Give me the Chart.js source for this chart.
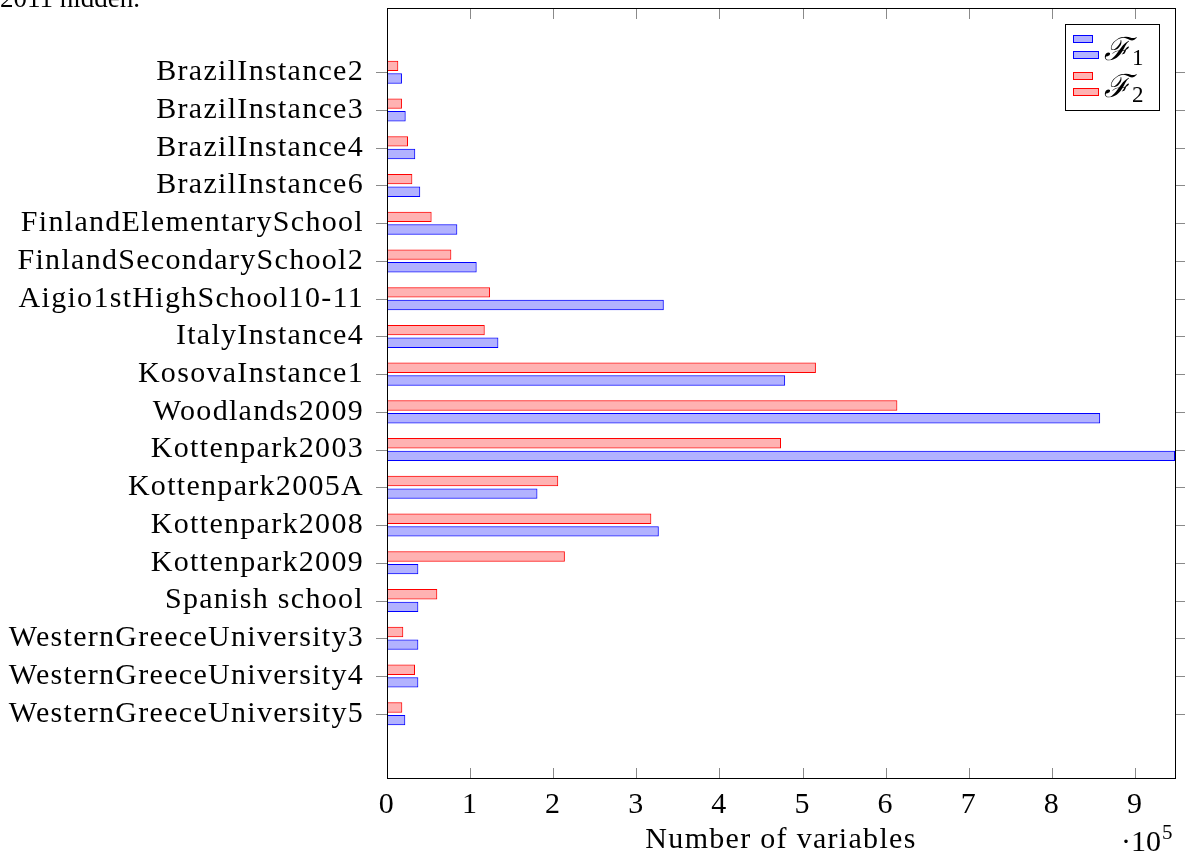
<!DOCTYPE html>
<html>
<head>
<meta charset="utf-8">
<script src="https://cdn.jsdelivr.net/npm/chart.js@4.4.1/dist/chart.umd.min.js"></script>
<style>
  body { margin: 0; background: #fff; }
  canvas { display: block; }
</style>
</head>
<body>
<canvas id="grafica" width="1185" height="855"></canvas>
<script>
const instancias = [
  "BrazilInstance2", "BrazilInstance3", "BrazilInstance4", "BrazilInstance6",
  "FinlandElementarySchool", "FinlandSecondarySchool2", "Aigio1stHighSchool10-11",
  "ItalyInstance4", "KosovaInstance1", "Woodlands2009", "Kottenpark2003",
  "Kottenpark2005A", "Kottenpark2008", "Kottenpark2009", "Spanish school",
  "WesternGreeceUniversity3", "WesternGreeceUniversity4", "WesternGreeceUniversity5"
];
const variablesF1 = [18000, 22500, 34000, 40000, 84600, 107900, 333000, 134000, 479000,
  858000, 948000, 181000, 327000, 37700, 37700, 37700, 37700, 22000];
const variablesF2 = [13600, 18000, 25300, 30500, 53700, 77400, 124000, 117600, 516000,
  614000, 474000, 206000, 318000, 214000, 60500, 19600, 33700, 18400];
const xTicks = [0, 1, 2, 3, 4, 5, 6, 7, 8, 9];
const escala = 1e5;

const fuente = "'Liberation Serif', 'DejaVu Serif', serif";
const espaciado = "1.3px";
const ctx = document.querySelector("#grafica").getContext("2d");

function puntos(valores) {
  return valores.map((v, i) => ({ x: v, y: i }));
}

// letras algo mas separadas, para acercarse al ancho del original
const separar = {
  id: "separar",
  beforeLayout(chart) { chart.ctx.letterSpacing = espaciado; },
  beforeDraw(chart) { chart.ctx.letterSpacing = espaciado; },
};

// marco, marcas de ejes, leyenda y textos extra
const marco = {
  id: "marco",
  afterDraw(chart) {
    const c = chart.ctx;
    const a = chart.chartArea;
    const sx = chart.scales.x;
    const sy = chart.scales.y;
    c.save();
    c.strokeStyle = "#8a8a8a";
    c.lineWidth = 1;
    c.beginPath();
    xTicks.forEach((t) => {
      const px = Math.round(sx.getPixelForValue(t * escala)) + 0.5;
      c.moveTo(px, a.top); c.lineTo(px, a.top + 11);
      c.moveTo(px, a.bottom); c.lineTo(px, a.bottom - 10);
    });
    instancias.forEach((n, i) => {
      const py = Math.round(sy.getPixelForValue(i)) + 0.5;
      c.moveTo(a.left - 11, py); c.lineTo(a.left, py);
      c.moveTo(a.right, py); c.lineTo(a.right + 11, py);
    });
    c.stroke();

    c.strokeStyle = "#000";
    c.strokeRect(Math.round(a.left) + 0.5, Math.round(a.top) + 0.5,
      Math.round(a.right - a.left), Math.round(a.bottom - a.top));

    // leyenda
    const lx = 1065, ly = 24;
    c.fillStyle = "#fff";
    c.fillRect(lx, ly, 94, 86);
    c.strokeRect(lx + 0.5, ly + 0.5, 94, 86);
    const series = [
      { nombre: "\u2131", sub: "1", ds: chart.data.datasets[1], y: ly + 11 },
      { nombre: "\u2131", sub: "2", ds: chart.data.datasets[0], y: ly + 48 }
    ];
    c.letterSpacing = "0px";
    series.forEach((s) => {
      c.fillStyle = s.ds.backgroundColor;
      c.strokeStyle = s.ds.borderColor;
      c.fillRect(lx + 8, s.y, 20, 8);
      c.strokeRect(lx + 8.5, s.y + 0.5, 19, 7);
      c.fillRect(lx + 8, s.y + 16, 26, 8);
      c.strokeRect(lx + 8.5, s.y + 16.5, 25, 7);
      c.fillStyle = "#000";
      c.textAlign = "left";
      c.textBaseline = "alphabetic";
      c.font = "italic 32px 'DejaVu Serif', serif";
      c.fillText(s.nombre, lx + 39, s.y + 25);
      c.font = "23px " + fuente;
      c.fillText(s.sub, lx + 67, s.y + 30);
    });

    // multiplicador del eje x
    c.fillStyle = "#000";
    c.textAlign = "left";
    c.font = "30px " + fuente;
    c.fillText("\u00b710", 1121, 851);
    c.font = "21px " + fuente;
    c.fillText("5", 1162, 839);

    // texto cortado arriba a la izquierda
    c.font = "27px " + fuente;
    c.textAlign = "right";
    c.fillText("2011 hidden.", 140, 7);
    c.restore();
  }
};

new Chart(ctx, {
  type: "bar",
  data: {
    datasets: [
      {
        label: "\u2131\u2082",
        data: puntos(variablesF2),
        backgroundColor: "rgba(255, 0, 0, 0.3)",
        borderColor: "#ff0000",
        borderWidth: 1,
        borderSkipped: false,
      },
      {
        label: "\u2131\u2081",
        data: puntos(variablesF1),
        backgroundColor: "rgba(0, 0, 255, 0.3)",
        borderColor: "#0000ff",
        borderWidth: 1,
        borderSkipped: false,
      },
    ],
  },
  options: {
    indexAxis: "y",
    responsive: false,
    animation: false,
    categoryPercentage: 0.67,
    barPercentage: 0.82,
    layout: { padding: { top: 8, right: 10, left: 0, bottom: 0 } },
    plugins: {
      legend: { display: false },
      tooltip: { enabled: false },
    },
    scales: {
      x: {
        type: "linear",
        min: 0,
        max: Math.max(...variablesF1, ...variablesF2),
        grid: { display: false, drawTicks: false },
        border: { display: false },
        afterBuildTicks: (s) => { s.ticks = xTicks.map((t) => ({ value: t * escala })); },
        ticks: {
          autoSkip: false,
          maxRotation: 0,
          padding: 9,
          color: "#000",
          font: { family: fuente, size: 30 },
          callback: (v) => v / escala,
        },
        title: {
          display: true,
          text: "Number of variables",
          color: "#000",
          font: { family: fuente, size: 30, lineHeight: 1 },
          padding: { top: 0, bottom: 0 },
        },
        afterFit: (s) => {
          s.height = 77;
          s.paddingLeft = 0;
          s.paddingRight = 0;
        },
      },
      y: {
        type: "linear",
        reverse: true,
        offset: false,
        min: -1.7,
        max: instancias.length - 1 + 1.7,
        grid: { display: false, drawTicks: false },
        border: { display: false },
        afterBuildTicks: (s) => { s.ticks = instancias.map((n, i) => ({ value: i })); },
        ticks: {
          autoSkip: false,
          padding: 23,
          color: "#000",
          font: { family: fuente, size: 30 },
          callback: (v) => instancias[v],
        },
        afterFit: (s) => {
          s.width = 387;
          s.paddingTop = 0;
          s.paddingBottom = 0;
        },
      },
    },
  },
  plugins: [separar, marco],
});
</script>
</body>
</html>
